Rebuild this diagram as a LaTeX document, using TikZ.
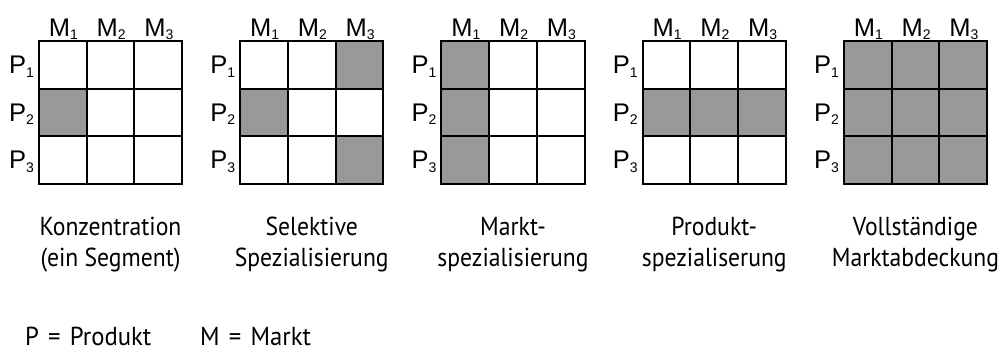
\documentclass[tikz,border=0pt]{standalone}
\usepackage{fontspec}
\newfontfamily\labfont{Liberation Sans}
\newfontfamily\capfont[FakeStretch=0.91]{PT Sans}
\newfontfamily\footfont[FakeStretch=0.95,WordSpace=1.4]{PT Sans}
\definecolor{cellgray}{RGB}{153,153,153}
\tikzset{
  cell/.style={draw=black, line width=2pt, minimum size=47.67pt, inner sep=0pt, outer sep=0pt},
  axlab/.style={inner sep=0pt, font=\labfont\fontsize{25.5}{25.5}\selectfont},
  captxt/.style={inner sep=0pt, anchor=base, font=\capfont\fontsize{26}{26}\selectfont},
  foot/.style={inner sep=0pt, anchor=base west, font=\footfont\fontsize{26}{26}\selectfont}
}
\newcommand{\lsub}[1]{\raisebox{-3.5pt}{\fontsize{14}{14}\selectfont #1}}
\begin{document}
\begin{tikzpicture}[x=1pt,y=-1pt]
\useasboundingbox (0,0) rectangle (1007,351);
\foreach \k/\pat in {0/{0,0,0,1,0,0,0,0,0},
                     1/{0,0,1,1,0,0,0,0,1},
                     2/{1,0,0,1,0,0,1,0,0},
                     3/{0,0,0,1,1,1,0,0,0},
                     4/{1,1,1,1,1,1,1,1,1}}{
  \pgfmathsetmacro{\gx}{39+201.25*\k}
  \foreach \f [count=\i from 0] in \pat {
    \pgfmathtruncatemacro{\r}{int(\i/3)}
    \pgfmathtruncatemacro{\c}{mod(\i,3)}
    \ifnum\f=1 \def\cf{cellgray}\else\def\cf{white}\fi
    \node[cell, fill=\cf] (g\k-\r-\c) at ({\gx+47.67*\c+23.83},{41+47.67*\r+23.83}) {};
  }
  \foreach \c in {0,1,2}{
    \node[axlab, anchor=base] (m\k-\c) at ({\gx+47.67*\c+24.5},36) {M\lsub{\the\numexpr\c+1\relax}};
  }
  \foreach \r in {0,1,2}{
    \node[axlab, anchor=base east] (p\k-\r) at ({\gx-5},{41+47.67*\r+32.5}) {P\lsub{\the\numexpr\r+1\relax}};
  }
}
\foreach \k/\la/\lb in {0/Konzentration/(ein Segment),
                        1/Selektive/Spezialisierung,
                        2/Markt-/spezialisierung,
                        3/Produkt-/spezialiserung,
                        4/Vollständige/Marktabdeckung}{
  \pgfmathsetmacro{\cx}{39+201.25*\k+71.5}
  \node[captxt] (ca\k) at (\cx,235) {\la};
  \node[captxt] (cb\k) at (\cx,266) {\lb};
}
\node[foot] (legp) at (25,345) {P = Produkt};
\node[foot] (legm) at (200,345) {M = Markt};
\end{tikzpicture}
\end{document}
